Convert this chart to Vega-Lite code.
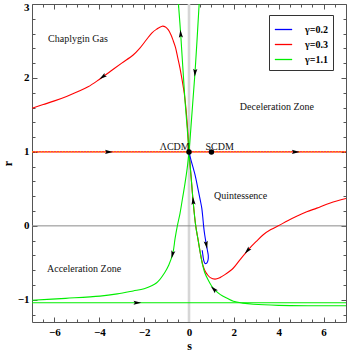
{
  "$schema": "https://vega.github.io/schema/vega-lite/v6.json",
  "width": 314,
  "height": 318,
  "autosize": {"type": "none"},
  "padding": {"left": 32, "top": 4, "right": 1, "bottom": 31},
  "background": "white",
  "config": {
    "view": {"stroke": "#555", "strokeWidth": 1},
    "font": "Liberation Serif",
    "axis": {
      "grid": false, "domain": false, "tickColor": "#555", "tickWidth": 1,
      "labelFont": "Liberation Serif", "labelFontWeight": "bold", "labelFontSize": 11, "labelColor": "#000",
      "titleFont": "Liberation Serif", "titleFontWeight": "bold", "titleFontSize": 12, "titleColor": "#000"
    }
  },
  "resolve": {"axis": {"x": "independent", "y": "independent"}},
  "datasets": {
    "curves": [
      {"id": "R0", "g": "γ=0.3", "s": -7, "r": 1},
      {"id": "R0", "g": "γ=0.3", "s": 7, "r": 1},
      {"id": "R1", "g": "γ=0.3", "s": -7, "r": 1.59},
      {"id": "R1", "g": "γ=0.3", "s": -6.5, "r": 1.64},
      {"id": "R1", "g": "γ=0.3", "s": -6, "r": 1.69},
      {"id": "R1", "g": "γ=0.3", "s": -5.46, "r": 1.75},
      {"id": "R1", "g": "γ=0.3", "s": -5, "r": 1.81},
      {"id": "R1", "g": "γ=0.3", "s": -4.5, "r": 1.88},
      {"id": "R1", "g": "γ=0.3", "s": -4, "r": 1.98},
      {"id": "R1", "g": "γ=0.3", "s": -3.5, "r": 2.09},
      {"id": "R1", "g": "γ=0.3", "s": -3, "r": 2.2},
      {"id": "R1", "g": "γ=0.3", "s": -2.49, "r": 2.31},
      {"id": "R1", "g": "γ=0.3", "s": -2.2, "r": 2.4},
      {"id": "R1", "g": "γ=0.3", "s": -1.89, "r": 2.52},
      {"id": "R1", "g": "γ=0.3", "s": -1.65, "r": 2.61},
      {"id": "R1", "g": "γ=0.3", "s": -1.44, "r": 2.66},
      {"id": "R1", "g": "γ=0.3", "s": -1.2, "r": 2.7},
      {"id": "R1", "g": "γ=0.3", "s": -1.05, "r": 2.69},
      {"id": "R1", "g": "γ=0.3", "s": -0.92, "r": 2.65},
      {"id": "R1", "g": "γ=0.3", "s": -0.8, "r": 2.58},
      {"id": "R1", "g": "γ=0.3", "s": -0.7, "r": 2.5},
      {"id": "R1", "g": "γ=0.3", "s": -0.6, "r": 2.41},
      {"id": "R1", "g": "γ=0.3", "s": -0.5, "r": 2.27},
      {"id": "R1", "g": "γ=0.3", "s": -0.4, "r": 2.13},
      {"id": "R1", "g": "γ=0.3", "s": -0.3, "r": 1.96},
      {"id": "R1", "g": "γ=0.3", "s": -0.21, "r": 1.79},
      {"id": "R1", "g": "γ=0.3", "s": -0.14, "r": 1.6},
      {"id": "R1", "g": "γ=0.3", "s": -0.09, "r": 1.42},
      {"id": "R1", "g": "γ=0.3", "s": -0.05, "r": 1.25},
      {"id": "R1", "g": "γ=0.3", "s": 0, "r": 1},
      {"id": "R2", "g": "γ=0.3", "s": 0, "r": 1},
      {"id": "R2", "g": "γ=0.3", "s": 0.1, "r": 0.64},
      {"id": "R2", "g": "γ=0.3", "s": 0.19, "r": 0.31},
      {"id": "R2", "g": "γ=0.3", "s": 0.3, "r": 0},
      {"id": "R2", "g": "γ=0.3", "s": 0.4, "r": -0.18},
      {"id": "R2", "g": "γ=0.3", "s": 0.5, "r": -0.36},
      {"id": "R2", "g": "γ=0.3", "s": 0.6, "r": -0.51},
      {"id": "R2", "g": "γ=0.3", "s": 0.7, "r": -0.6},
      {"id": "R2", "g": "γ=0.3", "s": 0.82, "r": -0.66},
      {"id": "R2", "g": "γ=0.3", "s": 0.95, "r": -0.7},
      {"id": "R2", "g": "γ=0.3", "s": 1.16, "r": -0.72},
      {"id": "R2", "g": "γ=0.3", "s": 1.38, "r": -0.7},
      {"id": "R2", "g": "γ=0.3", "s": 1.6, "r": -0.66},
      {"id": "R2", "g": "γ=0.3", "s": 1.98, "r": -0.57},
      {"id": "R2", "g": "γ=0.3", "s": 2.27, "r": -0.46},
      {"id": "R2", "g": "γ=0.3", "s": 2.65, "r": -0.32},
      {"id": "R2", "g": "γ=0.3", "s": 3, "r": -0.21},
      {"id": "R2", "g": "γ=0.3", "s": 3.31, "r": -0.12},
      {"id": "R2", "g": "γ=0.3", "s": 3.65, "r": -0.05},
      {"id": "R2", "g": "γ=0.3", "s": 3.98, "r": 0},
      {"id": "R2", "g": "γ=0.3", "s": 4.4, "r": 0.07},
      {"id": "R2", "g": "γ=0.3", "s": 4.8, "r": 0.13},
      {"id": "R2", "g": "γ=0.3", "s": 5.25, "r": 0.19},
      {"id": "R2", "g": "γ=0.3", "s": 5.7, "r": 0.24},
      {"id": "R2", "g": "γ=0.3", "s": 6.3, "r": 0.31},
      {"id": "R2", "g": "γ=0.3", "s": 7, "r": 0.37},
      {"id": "G1", "g": "γ=1.1", "s": -0.48, "r": 3.04},
      {"id": "G1", "g": "γ=1.1", "s": -0.37, "r": 2.59},
      {"id": "G1", "g": "γ=1.1", "s": -0.18, "r": 1.7},
      {"id": "G1", "g": "γ=1.1", "s": -0.08, "r": 1.32},
      {"id": "G1", "g": "γ=1.1", "s": 0, "r": 1},
      {"id": "G1", "g": "γ=1.1", "s": 0.1, "r": 0.64},
      {"id": "G1", "g": "γ=1.1", "s": 0.19, "r": 0.31},
      {"id": "G1", "g": "γ=1.1", "s": 0.3, "r": 0},
      {"id": "G1", "g": "γ=1.1", "s": 0.4, "r": -0.18},
      {"id": "G1", "g": "γ=1.1", "s": 0.5, "r": -0.36},
      {"id": "G1", "g": "γ=1.1", "s": 0.6, "r": -0.52},
      {"id": "G1", "g": "γ=1.1", "s": 0.7, "r": -0.63},
      {"id": "G1", "g": "γ=1.1", "s": 0.85, "r": -0.73},
      {"id": "G1", "g": "γ=1.1", "s": 1, "r": -0.81},
      {"id": "G1", "g": "γ=1.1", "s": 1.16, "r": -0.87},
      {"id": "G1", "g": "γ=1.1", "s": 1.4, "r": -0.93},
      {"id": "G1", "g": "γ=1.1", "s": 1.7, "r": -0.98},
      {"id": "G1", "g": "γ=1.1", "s": 1.98, "r": -1.02},
      {"id": "G1", "g": "γ=1.1", "s": 2.4, "r": -1.045},
      {"id": "G1", "g": "γ=1.1", "s": 2.87, "r": -1.06},
      {"id": "G1", "g": "γ=1.1", "s": 4, "r": -1.075},
      {"id": "G1", "g": "γ=1.1", "s": 5.5, "r": -1.08},
      {"id": "G1", "g": "γ=1.1", "s": 7, "r": -1.08},
      {"id": "G2", "g": "γ=1.1", "s": 0.46, "r": 3.04},
      {"id": "G2", "g": "γ=1.1", "s": 0.27, "r": 2.08},
      {"id": "G2", "g": "γ=1.1", "s": 0.12, "r": 1.47},
      {"id": "G2", "g": "γ=1.1", "s": 0, "r": 1},
      {"id": "G2", "g": "γ=1.1", "s": -0.08, "r": 0.78},
      {"id": "G2", "g": "γ=1.1", "s": -0.18, "r": 0.57},
      {"id": "G2", "g": "γ=1.1", "s": -0.29, "r": 0.37},
      {"id": "G2", "g": "γ=1.1", "s": -0.4, "r": 0.17},
      {"id": "G2", "g": "γ=1.1", "s": -0.52, "r": 0},
      {"id": "G2", "g": "γ=1.1", "s": -0.62, "r": -0.17},
      {"id": "G2", "g": "γ=1.1", "s": -0.72, "r": -0.37},
      {"id": "G2", "g": "γ=1.1", "s": -0.9, "r": -0.53},
      {"id": "G2", "g": "γ=1.1", "s": -1.1, "r": -0.64},
      {"id": "G2", "g": "γ=1.1", "s": -1.44, "r": -0.77},
      {"id": "G2", "g": "γ=1.1", "s": -2, "r": -0.85},
      {"id": "G2", "g": "γ=1.1", "s": -2.49, "r": -0.88},
      {"id": "G2", "g": "γ=1.1", "s": -3.2, "r": -0.92},
      {"id": "G2", "g": "γ=1.1", "s": -3.97, "r": -0.95},
      {"id": "G2", "g": "γ=1.1", "s": -5.5, "r": -0.98},
      {"id": "G2", "g": "γ=1.1", "s": -7, "r": -1.005},
      {"id": "G3", "g": "γ=1.1", "s": -7, "r": -1.04},
      {"id": "G3", "g": "γ=1.1", "s": 7, "r": -1.04},
      {"id": "B1", "g": "γ=0.2", "s": 0, "r": 1},
      {"id": "B1", "g": "γ=0.2", "s": 0.08, "r": 0.9},
      {"id": "B1", "g": "γ=0.2", "s": 0.17, "r": 0.8},
      {"id": "B1", "g": "γ=0.2", "s": 0.27, "r": 0.69},
      {"id": "B1", "g": "γ=0.2", "s": 0.4, "r": 0.5},
      {"id": "B1", "g": "γ=0.2", "s": 0.5, "r": 0.35},
      {"id": "B1", "g": "γ=0.2", "s": 0.57, "r": 0.24},
      {"id": "B1", "g": "γ=0.2", "s": 0.62, "r": 0.1},
      {"id": "B1", "g": "γ=0.2", "s": 0.65, "r": 0},
      {"id": "B1", "g": "γ=0.2", "s": 0.7, "r": -0.12},
      {"id": "B1", "g": "γ=0.2", "s": 0.76, "r": -0.23},
      {"id": "B1", "g": "γ=0.2", "s": 0.82, "r": -0.33},
      {"id": "B1", "g": "γ=0.2", "s": 0.86, "r": -0.4},
      {"id": "B1", "g": "γ=0.2", "s": 0.85, "r": -0.46},
      {"id": "B1", "g": "γ=0.2", "s": 0.8, "r": -0.5},
      {"id": "B1", "g": "γ=0.2", "s": 0.72, "r": -0.51},
      {"id": "B1", "g": "γ=0.2", "s": 0.66, "r": -0.47},
      {"id": "B1", "g": "γ=0.2", "s": 0.62, "r": -0.4},
      {"id": "B1", "g": "γ=0.2", "s": 0.59, "r": -0.33}
    ],
    "arrows": [
      {"s": -3.83, "r": 2.02, "a": 234},
      {"s": -0.37, "r": 2.59, "a": 356},
      {"s": 0.27, "r": 2.08, "a": 184},
      {"s": -3.6, "r": 1, "a": 90},
      {"s": 4.73, "r": 1, "a": 90},
      {"s": 0.19, "r": 0.33, "a": 355},
      {"s": 2.62, "r": -0.33, "a": 222},
      {"s": -0.73, "r": -0.38, "a": 193},
      {"s": 0.77, "r": -0.25, "a": 170},
      {"s": 1.12, "r": -0.86, "a": 315},
      {"s": -2.33, "r": -1.04, "a": 90}
    ],
    "points": [
      {"s": 0, "r": 1, "name": "ΛCDM"},
      {"s": 1, "r": 1, "name": "SCDM"}
    ],
    "labels": [
      {"s": -4.95, "r": 2.53, "t": "Chaplygin Gas"},
      {"s": 3.92, "r": 1.61, "t": "Deceleration Zone"},
      {"s": 2.3, "r": 0.4, "t": "Quintessence"},
      {"s": -4.68, "r": -0.59, "t": "Acceleration Zone"},
      {"s": -0.64, "r": 1.07, "t": "ΛCDM"},
      {"s": 1.37, "r": 1.07, "t": "SCDM"}
    ]
  },
  "layer": [
    {
      "data": {"values": [{"s": 0}]},
      "mark": {"type": "rule", "color": "#d6d6d6", "strokeWidth": 2.6},
      "encoding": {
        "x": {"field": "s", "type": "quantitative", "scale": {"domain": [-7, 7], "nice": false, "zero": false}, "axis": null}
      }
    },
    {
      "data": {"values": [{"r": 0}]},
      "mark": {"type": "rule", "color": "#8a8a8a", "strokeWidth": 1},
      "encoding": {
        "y": {"field": "r", "type": "quantitative", "scale": {"domain": [-1.3, 3], "nice": false, "zero": false}, "axis": null}
      }
    },
    {
      "data": {"name": "curves"},
      "mark": {"type": "line", "strokeWidth": 1.1, "clip": true, "interpolate": "catmull-rom"},
      "encoding": {
        "x": {"field": "s", "type": "quantitative", "scale": {"domain": [-7, 7], "nice": false, "zero": false},
              "axis": {"orient": "bottom", "values": [-6, -4, -2, 0, 2, 4, 6], "tickSize": -5, "labelPadding": 9, "title": "s", "titlePadding": 3}},
        "y": {"field": "r", "type": "quantitative", "scale": {"domain": [-1.3, 3], "nice": false, "zero": false},
              "axis": {"orient": "left", "values": [-1, 0, 1, 2, 3], "tickSize": -5, "labelPadding": 8, "title": "r", "titlePadding": 3,
                       "labelOffset": {"condition": {"test": "datum.value === 3", "value": 3}, "value": 0}}},
        "color": {"field": "g", "type": "nominal",
                  "scale": {"domain": ["γ=0.2", "γ=0.3", "γ=1.1"], "range": ["#0000ff", "#ff0000", "#00ee00"]},
                  "legend": {"orient": "none", "legendX": 237, "legendY": 11, "title": null, "symbolType": "stroke",
                             "symbolSize": 300, "symbolStrokeWidth": 1.3, "labelFont": "Liberation Serif", "labelFontWeight": "bold",
                             "labelFontSize": 10, "labelColor": "#000", "labelOffset": 12, "rowPadding": -3, "padding": 5,
                             "strokeColor": "#333", "fillColor": "white"}},
        "detail": {"field": "id"},
        "order": {"value": null}
      }
    },
    {
      "data": {"values": [{"s": -7, "r": 1}, {"s": 7, "r": 1}]},
      "mark": {"type": "line", "color": "#ffb000", "strokeWidth": 1.2, "strokeDash": [1, 2], "clip": true},
      "encoding": {
        "x": {"field": "s", "type": "quantitative", "scale": {"domain": [-7, 7], "nice": false, "zero": false}, "axis": null},
        "y": {"field": "r", "type": "quantitative", "scale": {"domain": [-1.3, 3], "nice": false, "zero": false}, "axis": null}
      }
    },
    {
      "data": {"name": "arrows"},
      "mark": {"type": "point", "shape": "M0,-1L0.45,0.7L0,0.4L-0.45,0.7Z", "filled": true, "color": "black", "size": 85, "opacity": 1},
      "encoding": {
        "x": {"field": "s", "type": "quantitative", "scale": {"domain": [-7, 7], "nice": false, "zero": false},
              "axis": {"orient": "bottom", "values": [-6.5, -5.5, -5, -4.5, -3.5, -3, -2.5, -1.5, -1, -0.5, 0.5, 1, 1.5, 2.5, 3, 3.5, 4.5, 5, 5.5, 6.5], "tickSize": -3, "labels": false, "title": null}},
        "y": {"field": "r", "type": "quantitative", "scale": {"domain": [-1.3, 3], "nice": false, "zero": false},
              "axis": {"orient": "left", "values": [-1.2, -0.8, -0.6, -0.4, -0.2, 0.2, 0.4, 0.6, 0.8, 1.2, 1.4, 1.6, 1.8, 2.2, 2.4, 2.6, 2.8], "tickSize": -3, "labels": false, "title": null}},
        "angle": {"field": "a", "type": "quantitative", "scale": null}
      }
    },
    {
      "data": {"name": "points"},
      "mark": {"type": "point", "shape": "circle", "filled": true, "color": "black", "size": 30, "opacity": 1},
      "encoding": {
        "x": {"field": "s", "type": "quantitative", "scale": {"domain": [-7, 7], "nice": false, "zero": false},
              "axis": {"orient": "top", "values": [-6, -4, -2, 0, 2, 4, 6], "tickSize": -5, "labels": false, "title": null}},
        "y": {"field": "r", "type": "quantitative", "scale": {"domain": [-1.3, 3], "nice": false, "zero": false},
              "axis": {"orient": "right", "values": [-1, 0, 1, 2, 3], "tickSize": -5, "labels": false, "title": null}}
      }
    },
    {
      "data": {"name": "labels"},
      "mark": {"type": "text", "font": "Liberation Serif", "fontSize": 10, "color": "#111", "align": "center", "baseline": "middle"},
      "encoding": {
        "x": {"field": "s", "type": "quantitative", "scale": {"domain": [-7, 7], "nice": false, "zero": false},
              "axis": {"orient": "top", "values": [-6.5, -5.5, -5, -4.5, -3.5, -3, -2.5, -1.5, -1, -0.5, 0.5, 1, 1.5, 2.5, 3, 3.5, 4.5, 5, 5.5, 6.5], "tickSize": -3, "labels": false, "title": null}},
        "y": {"field": "r", "type": "quantitative", "scale": {"domain": [-1.3, 3], "nice": false, "zero": false},
              "axis": {"orient": "right", "values": [-1.2, -0.8, -0.6, -0.4, -0.2, 0.2, 0.4, 0.6, 0.8, 1.2, 1.4, 1.6, 1.8, 2.2, 2.4, 2.6, 2.8], "tickSize": -3, "labels": false, "title": null}},
        "text": {"field": "t", "type": "nominal"}
      }
    }
  ]
}
